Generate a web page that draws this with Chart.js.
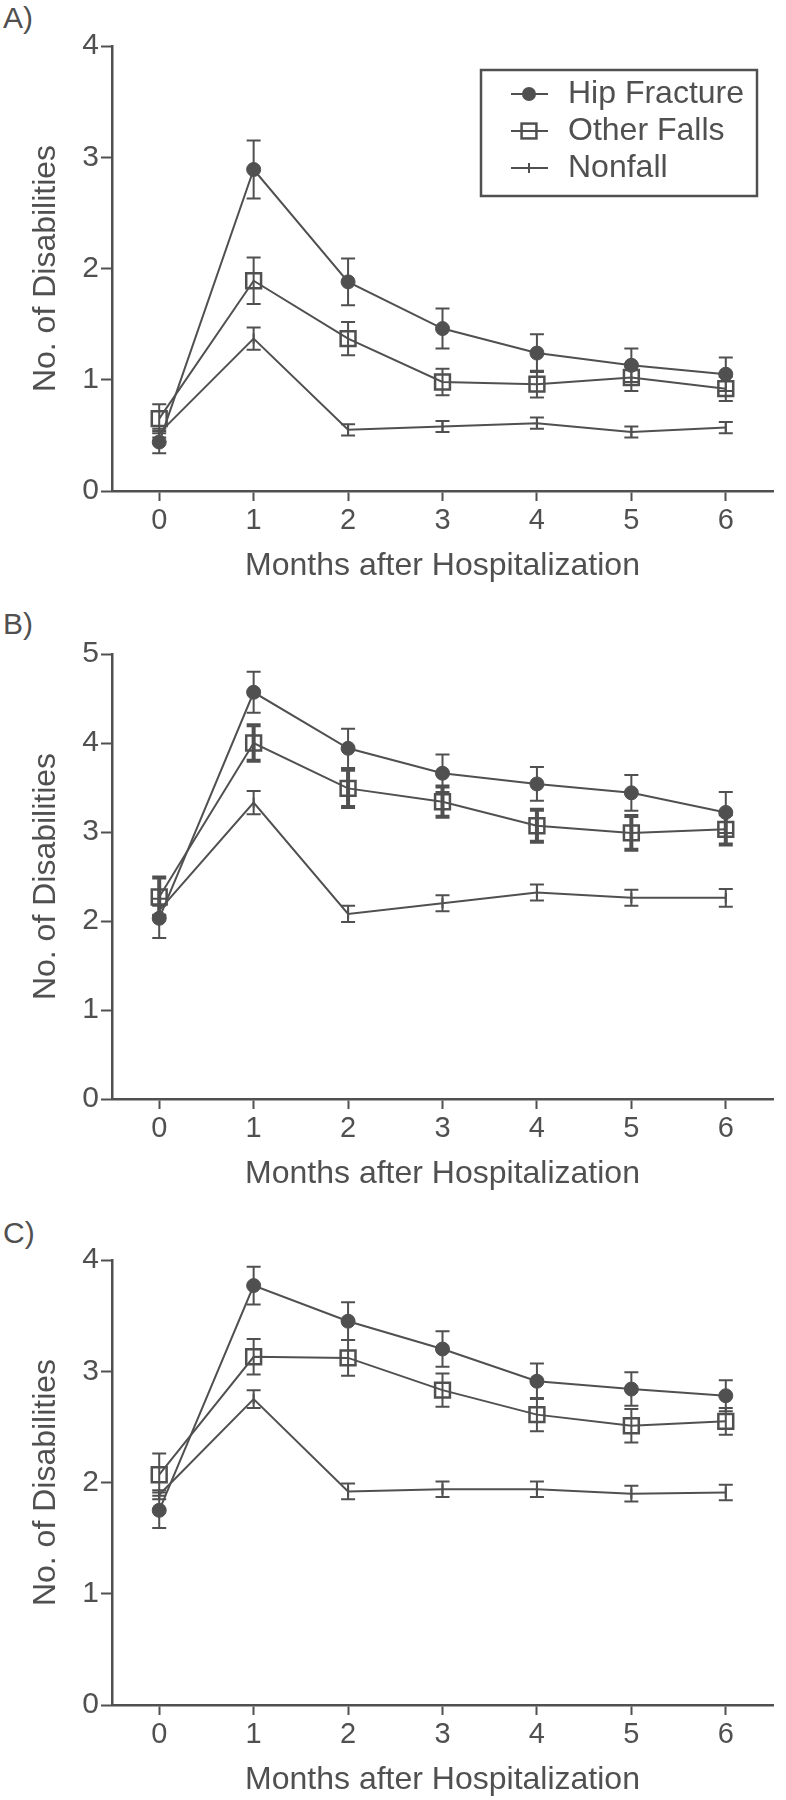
<!DOCTYPE html>
<html>
<head>
<meta charset="utf-8">
<script src="https://cdn.jsdelivr.net/npm/chart.js@4.4.1/dist/chart.umd.min.js"></script>
<style>
    body {
        margin: 0;
        background: #fff;
        width: 786px;
        height: 1800px;
        position: relative;
        font-family: 'Liberation Sans', Arial, sans-serif;
    }
    .panel {
        position: absolute;
        left: 0;
        width: 786px;
        height: 586px;
    }
    .tag {
        position: absolute;
        left: 3px;
        font-size: 30px;
        line-height: 30px;
        color: #505050;
    }
</style>
</head>
<body>
<div class="tag" style="top:3px">A)</div>
<div class="tag" style="top:609px">B)</div>
<div class="tag" style="top:1218px">C)</div>
<div class="panel" style="top:0"><canvas id="chartA" width="786" height="586"></canvas></div>
<div class="panel" style="top:608px"><canvas id="chartB" width="786" height="586"></canvas></div>
<div class="panel" style="top:1214px"><canvas id="chartC" width="786" height="586"></canvas></div>

<script>
// months after hospitalization
const months = [0, 1, 2, 3, 4, 5, 6];
const seriesNames = ['Hip Fracture', 'Other Falls', 'Nonfall'];

// A) mean and error (half-length of bar)
const hipA = [0.44, 2.89, 1.88, 1.46, 1.24, 1.13, 1.05];
const hipAErr = [0.10, 0.26, 0.21, 0.18, 0.17, 0.15, 0.15];
const otherA = [0.65, 1.89, 1.37, 0.98, 0.96, 1.02, 0.92];
const otherAErr = [0.13, 0.21, 0.15, 0.12, 0.12, 0.12, 0.11];
const nonfallA = [0.52, 1.37, 0.55, 0.58, 0.61, 0.53, 0.57];
const nonfallAErr = [0.04, 0.10, 0.05, 0.05, 0.05, 0.05, 0.05];

// B)
const hipB = [2.03, 4.57, 3.94, 3.66, 3.54, 3.44, 3.22];
const hipBErr = [0.22, 0.23, 0.22, 0.21, 0.19, 0.20, 0.23];
const otherB = [2.27, 4.00, 3.49, 3.34, 3.07, 2.99, 3.03];
const otherBErr = [0.22, 0.20, 0.21, 0.17, 0.18, 0.19, 0.17];
const nonfallB = [2.12, 3.33, 2.08, 2.20, 2.32, 2.26, 2.26];
const nonfallBErr = [0.05, 0.13, 0.09, 0.09, 0.09, 0.09, 0.10];

// C)
const hipC = [1.75, 3.77, 3.45, 3.20, 2.91, 2.84, 2.78];
const hipCErr = [0.16, 0.17, 0.17, 0.16, 0.16, 0.15, 0.14];
const otherC = [2.07, 3.13, 3.12, 2.83, 2.61, 2.51, 2.55];
const otherCErr = [0.19, 0.16, 0.16, 0.15, 0.15, 0.15, 0.12];
const nonfallC = [1.89, 2.75, 1.92, 1.94, 1.94, 1.90, 1.91];
const nonfallCErr = [0.04, 0.08, 0.07, 0.07, 0.07, 0.07, 0.07];

const yTicksA = [0, 1, 2, 3, 4];
const yTicksB = [0, 1, 2, 3, 4, 5];
const yTicksC = [0, 1, 2, 3, 4];

const INK = '#505050';
const FONT = "'Liberation Sans', Arial, sans-serif";
const CAP = 7;

// error bars with caps, drawn under the markers
const errorBars = {
    id: 'errorBars',
    beforeDatasetsDraw(chart) {
        const ctx = chart.ctx;
        const y = chart.scales.y;
        chart.data.datasets.forEach((ds, i) => {
            const meta = chart.getDatasetMeta(i);
            ctx.save();
            ctx.strokeStyle = INK;
            ctx.lineWidth = ds.errWidth || 2;
            meta.data.forEach((pt, j) => {
                const v = ds.data[j].y;
                const e = ds.errors[j];
                const top = y.getPixelForValue(v + e);
                const bot = y.getPixelForValue(v - e);
                ctx.beginPath();
                ctx.moveTo(pt.x, top);
                ctx.lineTo(pt.x, bot);
                ctx.moveTo(pt.x - CAP, top);
                ctx.lineTo(pt.x + CAP, top);
                ctx.moveTo(pt.x - CAP, bot);
                ctx.lineTo(pt.x + CAP, bot);
                ctx.stroke();
            });
            ctx.restore();
        });
    }
};

// boxed legend in the upper right of the plot
const boxLegend = {
    id: 'boxLegend',
    afterDraw(chart, args, opts) {
        if (!opts.show) return;
        const { ctx, chartArea } = chart;
        const left = chartArea.right - 292;
        const top = chartArea.top + 24;
        ctx.save();
        ctx.strokeStyle = INK;
        ctx.lineWidth = 2.5;
        ctx.strokeRect(left, top, 276, 126);
        chart.data.datasets.forEach((ds, i) => {
            const cy = top + 24 + i * 37;
            const mx = left + 48;
            ctx.strokeStyle = INK;
            ctx.lineWidth = 2;
            ctx.beginPath();
            ctx.moveTo(left + 30, cy);
            ctx.lineTo(left + 67, cy);
            ctx.stroke();
            if (ds.pointStyle === 'circle') {
                ctx.fillStyle = ds.pointBackgroundColor;
                ctx.beginPath();
                ctx.arc(mx, cy, ds.pointRadius, 0, Math.PI * 2);
                ctx.fill();
            } else if (ds.pointStyle === 'rect') {
                const s = ds.pointRadius * Math.SQRT1_2;
                ctx.lineWidth = ds.pointBorderWidth;
                ctx.strokeRect(mx - s, cy - s, 2 * s, 2 * s);
            } else {
                ctx.beginPath();
                ctx.moveTo(mx, cy - ds.pointRadius);
                ctx.lineTo(mx, cy + ds.pointRadius);
                ctx.stroke();
            }
            ctx.fillStyle = INK;
            ctx.font = '32px ' + FONT;
            ctx.textBaseline = 'middle';
            ctx.fillText(ds.label, left + 87, cy);
        });
        ctx.restore();
    }
};

function points(vals) {
    return vals.map((v, i) => ({ x: months[i], y: v }));
}

function makePanel(id, hip, hipErr, other, otherErr, nonfall, nonfallErr, yTicks, opts) {
    const datasets = [
        {
            label: seriesNames[0],
            data: points(hip),
            errors: hipErr,
            pointStyle: 'circle',
            pointRadius: 7,
            pointBackgroundColor: INK,
            pointBorderColor: INK,
            pointBorderWidth: 1,
        },
        {
            label: seriesNames[1],
            data: points(other),
            errors: otherErr,
            errWidth: opts.thickOther ? 4 : 2,
            pointStyle: 'rect',
            pointRadius: 10.5,
            pointBackgroundColor: 'rgba(0,0,0,0)',
            pointBorderColor: INK,
            pointBorderWidth: 2.5,
        },
        {
            label: seriesNames[2],
            data: points(nonfall),
            errors: nonfallErr,
            pointStyle: 'line',
            pointRotation: 90,
            pointRadius: 5,
            pointBorderColor: INK,
            pointBorderWidth: 2,
        },
    ].map(ds => Object.assign({
        borderColor: INK,
        borderWidth: 2,
        tension: 0,
        fill: false,
    }, ds));

    return new Chart(document.getElementById(id), {
        type: 'line',
        data: { datasets },
        plugins: [errorBars, boxLegend],
        options: {
            responsive: false,
            animation: false,
            layout: { padding: { top: 46, right: 8, left: 0, bottom: 0 } },
            plugins: {
                legend: { display: false },
                tooltip: { enabled: false },
                boxLegend: { show: !!opts.legend },
            },
            scales: {
                x: {
                    type: 'linear',
                    min: -0.5,
                    max: 6.5,
                    afterBuildTicks: s => { s.ticks = months.map(v => ({ value: v })); },
                    afterFit: s => { s.height = 95; },
                    grid: { drawOnChartArea: false, drawTicks: true, tickLength: 10, tickWidth: 2, tickColor: INK },
                    border: { display: true, color: INK, width: 2.5 },
                    ticks: { color: INK, font: { size: 29, family: FONT }, padding: 3 },
                    title: {
                        display: true,
                        text: 'Months after Hospitalization',
                        color: INK,
                        font: { size: 32, family: FONT },
                        padding: { top: 0, bottom: 1 },
                    },
                },
                y: {
                    min: yTicks[0],
                    max: yTicks[yTicks.length - 1],
                    afterBuildTicks: s => { s.ticks = yTicks.map(v => ({ value: v })); },
                    afterFit: s => { s.width = 112; },
                    grid: { drawOnChartArea: false, drawTicks: true, tickLength: 11, tickWidth: 2, tickColor: INK },
                    border: { display: true, color: INK, width: 2.5 },
                    ticks: { color: INK, font: { size: 30, family: FONT }, padding: 2 },
                    title: {
                        display: true,
                        text: 'No. of Disabilities',
                        color: INK,
                        font: { size: 32, family: FONT },
                        padding: { top: 27, bottom: 0 },
                    },
                },
            },
        },
    });
}

makePanel('chartA', hipA, hipAErr, otherA, otherAErr, nonfallA, nonfallAErr, yTicksA, { legend: true });
makePanel('chartB', hipB, hipBErr, otherB, otherBErr, nonfallB, nonfallBErr, yTicksB, { thickOther: true });
makePanel('chartC', hipC, hipCErr, otherC, otherCErr, nonfallC, nonfallCErr, yTicksC, {});
</script>
</body>
</html>
